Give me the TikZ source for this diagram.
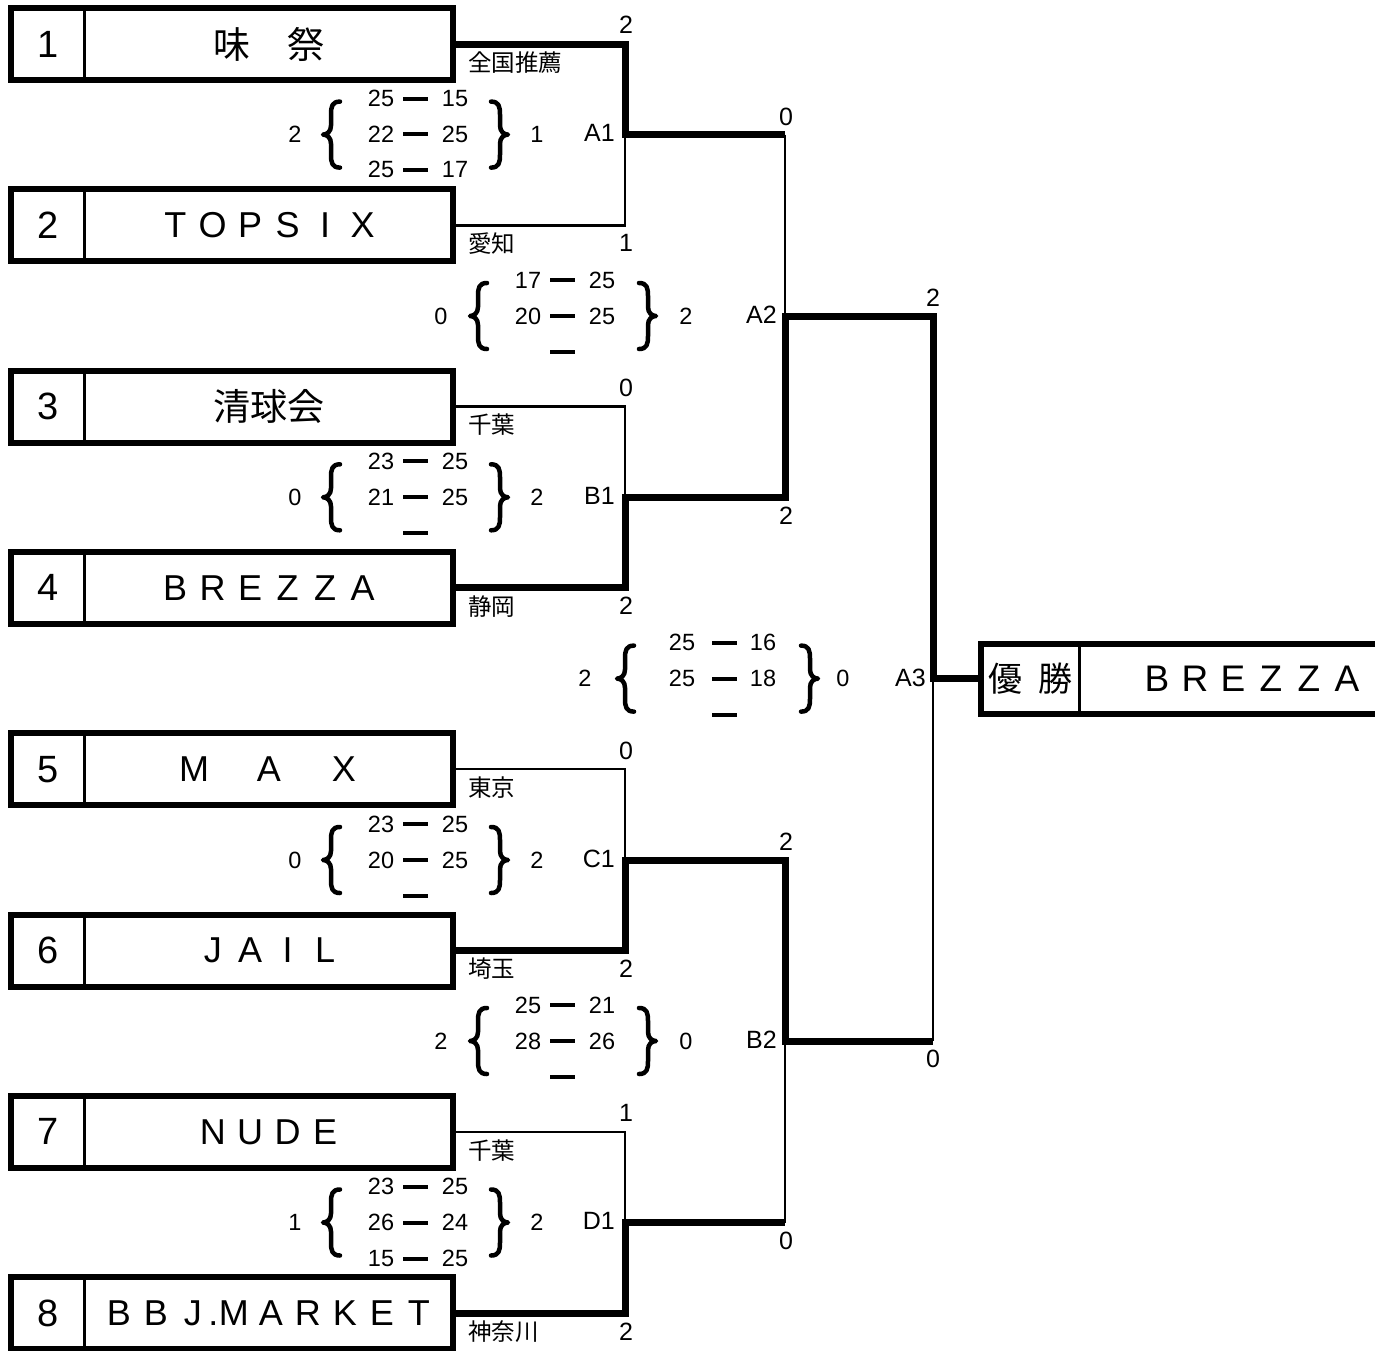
\documentclass[tikz,border=0pt]{standalone}
\usepackage{fontspec}
\setmainfont{Liberation Sans}
\newfontfamily\jp{Noto Sans CJK JP}
\newcommand\fw[1]{\makebox[37.5pt]{#1}}
\newcommand\fsz[1]{\fontsize{#1}{#1}\selectfont}
\newcommand\team[4]{%
  \node[teambox] (box#1) at (232,#2) {};
  \draw[line width=3pt] (84.5,{#2-36}) -- (84.5,{#2+36});
  \node[num] (n#1) at (48.5,#2) {#3};
  \node[inner sep=0pt] (name#1) at (269,#2) {#4};
  \coordinate (t#1) at (453,#2);
}
\newcommand\bracel[2]{%
  \draw[bracep] ({#1+17},{#2-33}) .. controls ({#1+9},{#2-33}) and ({#1+8},{#2-28}) .. ({#1+8},{#2-20}) -- ({#1+8},{#2-9}) .. controls ({#1+8},{#2-3}) and ({#1+4},{#2}) .. ({#1},{#2}) .. controls ({#1+4},{#2}) and ({#1+8},{#2+3}) .. ({#1+8},{#2+9}) -- ({#1+8},{#2+20}) .. controls ({#1+8},{#2+28}) and ({#1+9},{#2+33}) .. ({#1+17},{#2+33});
}
\newcommand\bracer[2]{%
  \draw[bracep] ({#1-17},{#2-33}) .. controls ({#1-9},{#2-33}) and ({#1-8},{#2-28}) .. ({#1-8},{#2-20}) -- ({#1-8},{#2-9}) .. controls ({#1-8},{#2-3}) and ({#1-4},{#2}) .. ({#1},{#2}) .. controls ({#1-4},{#2}) and ({#1-8},{#2+3}) .. ({#1-8},{#2+9}) -- ({#1-8},{#2+20}) .. controls ({#1-8},{#2+28}) and ({#1-9},{#2+33}) .. ({#1-17},{#2+33});
}
% name, Y, ls, dx, rs, left, right
\newcommand\srow[7]{%
  \node[sc] (#1l) at (#3,#2) {#6};
  \draw[dsh] (#4,#2) -- ({#4+25},#2);
  \node[sc] (#1r) at (#5,#2) {#7};
}
\newcommand\drow[2]{\draw[dsh] (#2,#1) -- ({#2+25},#1);}
\begin{document}
\begin{tikzpicture}[x=1pt,y=-1pt,
  thinln/.style={line width=2.5pt, line join=miter},
  winln/.style={line width=7pt, line join=miter},
  teambox/.style={draw, line width=6pt, minimum width=442pt, minimum height=72pt, inner sep=0pt},
  num/.style={font=\fsz{38}, inner sep=0pt},
  sc/.style={font=\fsz{23.5}, inner sep=0pt},
  lab/.style={font=\fsz{25}, inner sep=0pt},
  pref/.style={font=\jp\fsz{23.5}, inner sep=0pt, anchor=west},
  bracep/.style={line width=4.5pt, line cap=round, line join=round},
  dsh/.style={line width=4pt},
  tn/.style={font=\fsz{36}},
  jn/.style={font=\jp\fsz{37}},
]
\useasboundingbox (0,0) rectangle (1381,1350);

% ---- teams
\team{1}{44}{1}{\jp\fsz{37}味　祭}
\team{2}{225.3}{2}{\fsz{36}\fw{T}\fw{O}\fw{P}\fw{S}\fw{I}\fw{X}}
\team{3}{406.6}{3}{\jp\fsz{37}清球会}
\team{4}{587.9}{4}{\fsz{36}\fw{B}\fw{R}\fw{E}\fw{Z}\fw{Z}\fw{A}}
\team{5}{769.2}{5}{\fsz{36}\fw{M}\fw{}\fw{A}\fw{}\fw{X}}
\team{6}{950.5}{6}{\fsz{36}\fw{J}\fw{A}\fw{I}\fw{L}}
\team{7}{1131.8}{7}{\fsz{36}\fw{N}\fw{U}\fw{D}\fw{E}}
\team{8}{1313.1}{8}{\fsz{36}\makebox[37pt]{B}\makebox[37pt]{B}\makebox[37pt]{J}\makebox[4pt]{.}\makebox[37pt]{M}\makebox[37pt]{A}\makebox[37pt]{R}\makebox[37pt]{K}\makebox[37pt]{E}\makebox[37pt]{T}}

% ---- junctions
\coordinate (A1) at (625,134.6);
\coordinate (B1) at (625,497.3);
\coordinate (C1) at (625,860);
\coordinate (D1) at (625,1222.5);
\coordinate (A2) at (785,316);
\coordinate (B2) at (785,1041);
\coordinate (A3) at (933,678.6);
\coordinate (W) at (981,678.6);

% ---- winner box
\draw[line width=6pt, line join=miter] (1375,644) -- (981,644) -- (981,714) -- (1375,714);
\draw[line width=2.5pt] (1079.5,644) -- (1079.5,714);
\node[jn, inner sep=0pt] (wy1) at (1005,679) {\fsz{34}優};
\node[jn, inner sep=0pt] (wy2) at (1055,679) {\fsz{34}勝};
\node[inner sep=0pt] (wname) at (1252,679) {\fsz{37}\makebox[38pt]{B}\makebox[38pt]{R}\makebox[38pt]{E}\makebox[38pt]{Z}\makebox[38pt]{Z}\makebox[38pt]{A}};

% ---- thin connectors
\draw[thinln] (t2) -| (A1);
\draw[thinln] (A1 -| A2) -- (A2);
\draw[thinln] (t3) -| (B1);
\draw[thinln] (t5) -| (C1);
\draw[thinln] (t7) -| (D1);
\draw[thinln] (D1 -| B2) -- (B2);
\draw[thinln] (B2 -| A3) -- (A3);

% ---- thick connectors
\draw[winln] (t1) -| (A1) -- (A1 -| A2);
\draw[winln] (t4) -| (B1) -- (B1 -| A2) -- (A2) -- (A2 -| A3) -- (A3) -- (W);
\draw[winln] (t6) -| (C1) -- (C1 -| B2) -- (B2) -- (B2 -| A3);
\draw[winln] (t8) -| (D1) -- (D1 -| B2);

% ---- line-end labels
\node[lab] (s1) at (626,25) {2};
\node[lab] (s2) at (626,243) {1};
\node[lab] (s3) at (626,388) {0};
\node[lab] (s4) at (626,606) {2};
\node[lab] (s5) at (626,751) {0};
\node[lab] (s6) at (626,969) {2};
\node[lab] (s7) at (626,1113) {1};
\node[lab] (s8) at (626,1332) {2};
\node[lab] (r1) at (786,117) {0};
\node[lab] (r2) at (786,516) {2};
\node[lab] (r3) at (786,842) {2};
\node[lab] (r4) at (786,1241) {0};
\node[lab] (q1) at (933,298) {2};
\node[lab] (q2) at (933,1059) {0};

\node[pref] (p1) at (468,63) {全国推薦};
\node[pref] (p2) at (468,244) {愛知};
\node[pref] (p3) at (468,425) {千葉};
\node[pref] (p4) at (468,607) {静岡};
\node[pref] (p5) at (468,788) {東京};
\node[pref] (p6) at (468,969) {埼玉};
\node[pref] (p7) at (468,1151) {千葉};
\node[pref] (p8) at (468,1332) {神奈川};

% ---- match labels
\node[lab, anchor=east] (mA1) at (615,133) {A1};
\node[lab, anchor=east] (mB1) at (615,496) {B1};
\node[lab, anchor=east] (mC1) at (615,859) {C1};
\node[lab, anchor=east] (mD1) at (615,1221) {D1};
\node[lab, anchor=east] (mA2) at (777,315) {A2};
\node[lab, anchor=east] (mB2) at (777,1040) {B2};
\node[lab, anchor=east] (mA3) at (926,678) {A3};

% ---- score blocks, round 1 (A1 B1 C1 D1)
% A1
\node[sc] (a1x) at (295,134.6) {2};
\bracel{323}{134.6}
\srow{a1a}{98.6}{381}{403}{455}{25}{15}
\srow{a1b}{134}{381}{403}{455}{22}{25}
\srow{a1c}{169.6}{381}{403}{455}{25}{17}
\bracer{508}{134.6}
\node[sc] (a1y) at (537,134.6) {1};
% B1
\node[sc] (b1x) at (295,497.3) {0};
\bracel{323}{497.3}
\srow{b1a}{461.3}{381}{403}{455}{23}{25}
\srow{b1b}{497.3}{381}{403}{455}{21}{25}
\drow{533.3}{403}
\bracer{508}{497.3}
\node[sc] (b1y) at (537,497.3) {2};
% C1
\node[sc] (c1x) at (295,860) {0};
\bracel{323}{860}
\srow{c1a}{824}{381}{403}{455}{23}{25}
\srow{c1b}{860}{381}{403}{455}{20}{25}
\drow{896}{403}
\bracer{508}{860}
\node[sc] (c1y) at (537,860) {2};
% D1
\node[sc] (d1x) at (295,1222.5) {1};
\bracel{323}{1222.5}
\srow{d1a}{1186.5}{381}{403}{455}{23}{25}
\srow{d1b}{1222.5}{381}{403}{455}{26}{24}
\srow{d1c}{1258.5}{381}{403}{455}{15}{25}
\bracer{508}{1222.5}
\node[sc] (d1y) at (537,1222.5) {2};

% ---- round 2 (A2 B2)
\node[sc] (a2x) at (441,316) {0};
\bracel{470}{316}
\srow{a2a}{280}{528}{550}{602}{17}{25}
\srow{a2b}{316}{528}{550}{602}{20}{25}
\drow{352}{550}
\bracer{656}{316}
\node[sc] (a2y) at (686,316) {2};

\node[sc] (b2x) at (441,1041) {2};
\bracel{470}{1041}
\srow{b2a}{1005}{528}{550}{602}{25}{21}
\srow{b2b}{1041}{528}{550}{602}{28}{26}
\drow{1077}{550}
\bracer{656}{1041}
\node[sc] (b2y) at (686,1041) {0};

% ---- final (A3)
\node[sc] (a3x) at (585,678.6) {2};
\bracel{617}{678.6}
\srow{a3a}{642.6}{682}{712}{763}{25}{16}
\srow{a3b}{678.6}{682}{712}{763}{25}{18}
\drow{714.6}{712}
\bracer{818}{678.6}
\node[sc] (a3y) at (843,678.6) {0};
\end{tikzpicture}
\end{document}
